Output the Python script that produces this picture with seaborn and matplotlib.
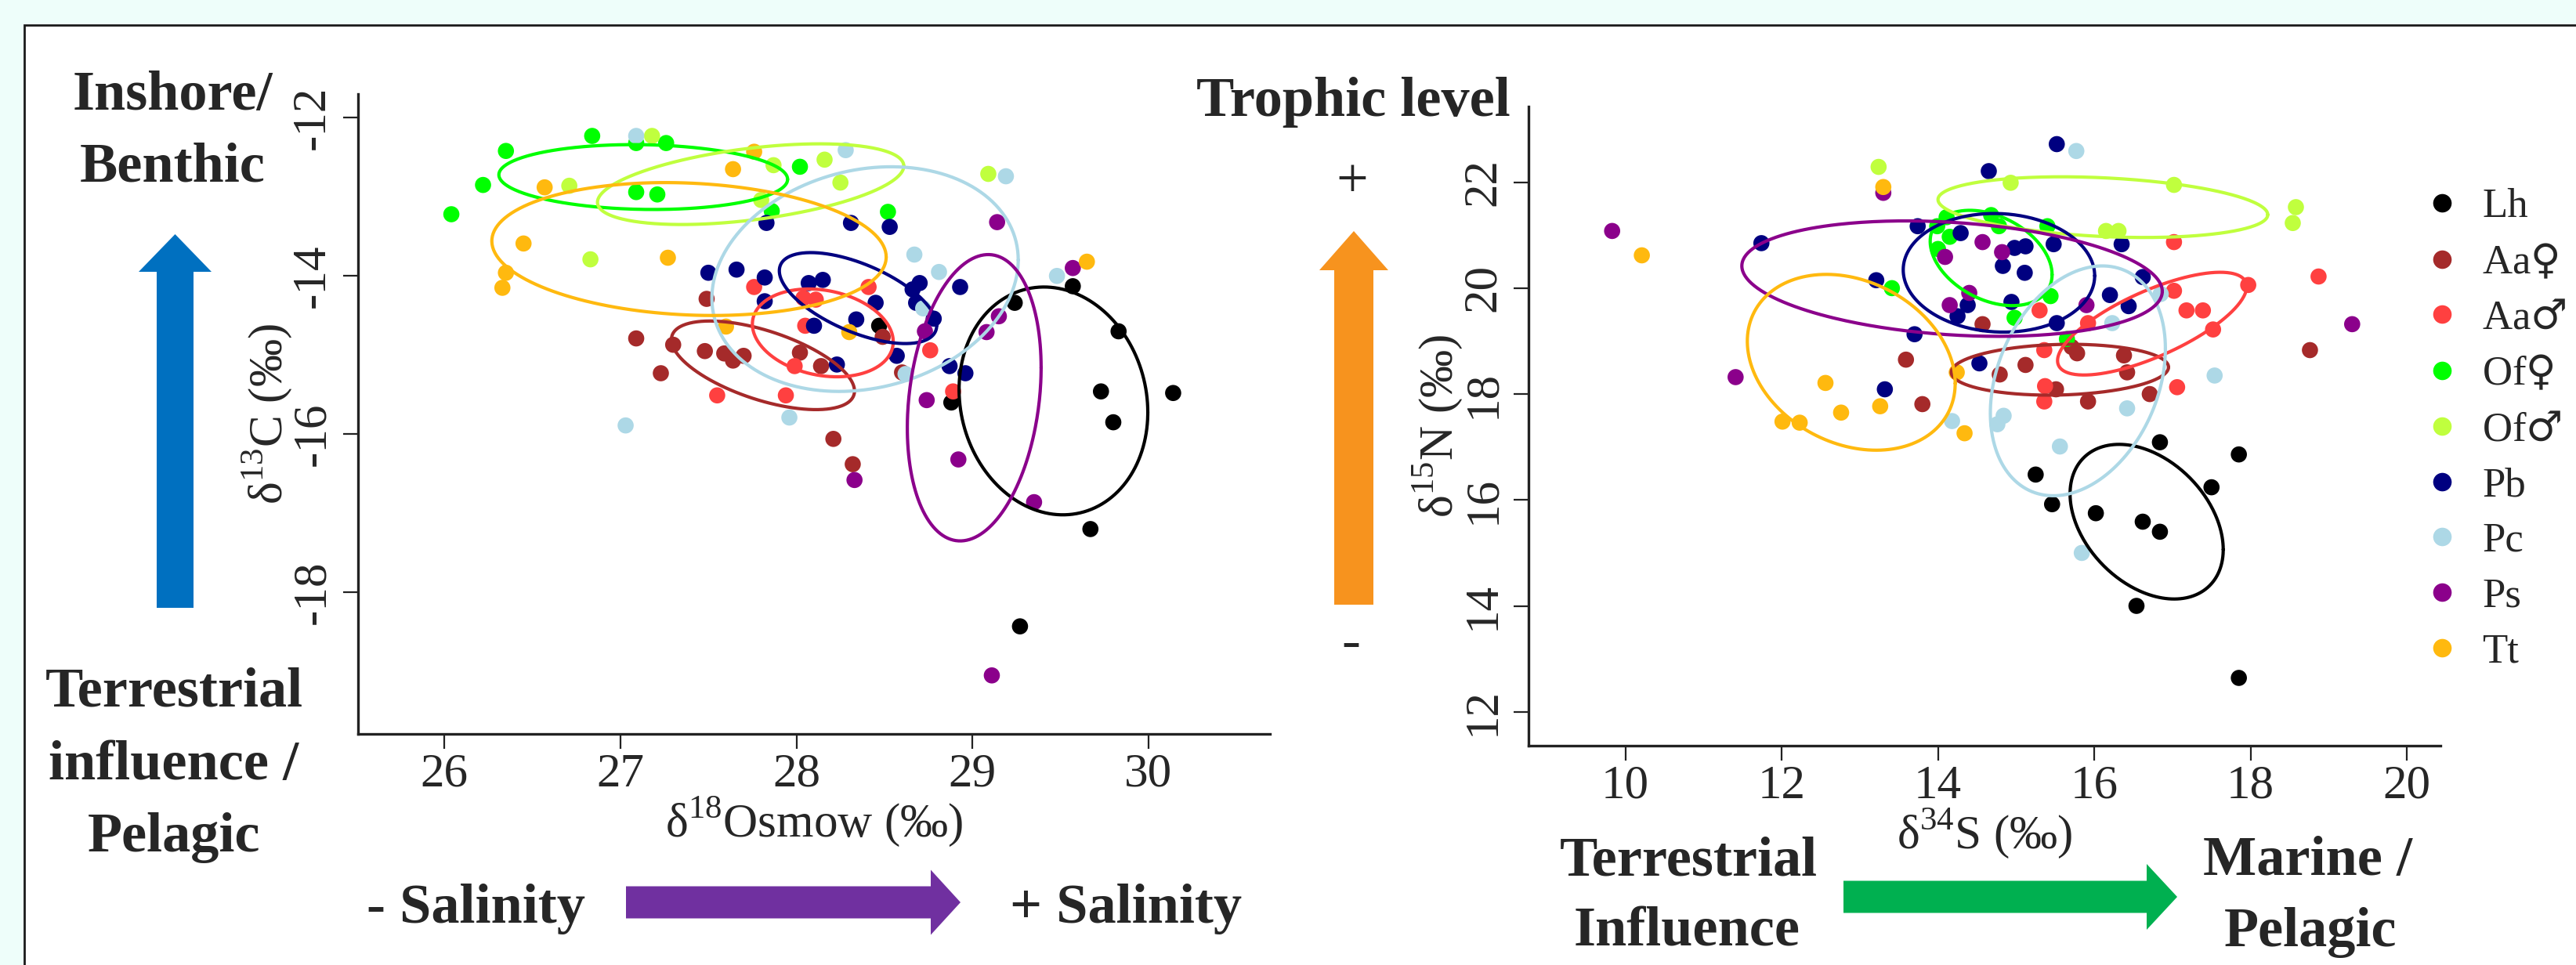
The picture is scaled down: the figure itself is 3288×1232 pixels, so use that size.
import numpy as np
import pandas as pd
import seaborn as sns
import matplotlib.pyplot as plt
from matplotlib.patches import Rectangle, FancyArrow
from matplotlib.lines import Line2D

groups = ["Lh", "Aa♀", "Aa♂", "Of♀", "Of♂", "Pb", "Pc", "Ps", "Tt"]
colors = ["#000000", "#A52A2A", "#FF4040", "#00FF00", "#C0FF3E",
          "#000080", "#ADD8E6", "#8B008B", "#FFB90F"]

# left panel: d18O (x) and d13C (y)
o18 = {
    "Lh": [28.47, 28.88, 29.24, 29.57, 29.83, 29.73, 30.14, 29.80, 29.67, 29.27],
    "Aa♀": [27.49, 27.09, 27.30, 27.48, 27.59, 27.64, 27.70, 27.23, 28.02, 28.14, 28.21, 28.32, 28.49, 28.60],
    "Aa♂": [27.76, 28.04, 28.11, 28.41, 28.05, 27.99, 27.55, 27.94, 28.76, 28.89],
    "Of♀": [26.84, 26.35, 27.09, 27.26, 26.22, 26.04, 28.02, 27.09, 27.21, 28.52, 27.86],
    "Of♂": [27.18, 26.71, 26.83, 27.87, 28.16, 28.25, 27.80, 29.09],
    "Pb": [27.83, 28.31, 28.53, 27.50, 27.66, 27.82, 27.82, 28.07, 28.15, 28.45, 28.66,
           28.70, 28.93, 28.68, 28.78, 28.10, 28.34, 28.57, 28.23, 28.87, 28.96],
    "Pc": [27.09, 28.28, 29.19, 28.67, 28.81, 28.72, 29.48, 28.62, 27.96, 27.03],
    "Ps": [29.14, 29.57, 28.73, 29.08, 29.15, 28.74, 28.92, 28.33, 29.35, 29.11],
    "Tt": [27.76, 27.64, 26.57, 26.45, 26.35, 26.33, 27.27, 29.65, 28.30, 27.60],
}
c13 = {
    "Lh": [-14.63, -15.60, -14.34, -14.13, -14.70, -15.46, -15.48, -15.85, -17.20, -18.43],
    "Aa♀": [-14.29, -14.79, -14.87, -14.95, -14.98, -15.07, -15.01, -15.23, -14.97, -15.14, -16.06, -16.38, -14.77, -15.22],
    "Aa♂": [-14.14, -14.28, -14.30, -14.14, -14.63, -15.14, -15.51, -15.51, -14.94, -15.46],
    "Of♀": [-12.23, -12.42, -12.32, -12.32, -12.85, -13.22, -12.62, -12.94, -12.97, -13.19, -13.18],
    "Of♂": [-12.23, -12.86, -13.79, -12.60, -12.53, -12.82, -13.04, -12.71],
    "Pb": [-13.33, -13.33, -13.38, -13.96, -13.92, -14.02, -14.32, -14.09, -14.05, -14.34, -14.17,
           -14.09, -14.14, -14.34, -14.54, -14.63, -14.55, -15.01, -15.12, -15.14, -15.23],
    "Pc": [-12.23, -12.41, -12.74, -13.73, -13.95, -14.41, -14.00, -15.24, -15.79, -15.89],
    "Ps": [-13.32, -13.90, -14.70, -14.71, -14.51, -15.57, -16.32, -16.58, -16.86, -19.05],
    "Tt": [-12.43, -12.65, -12.88, -13.59, -13.96, -14.15, -13.77, -13.82, -14.71, -14.64],
}

# right panel: d34S (x) and d15N (y)
s34 = {
    "Lh": [16.84, 17.85, 15.25, 17.50, 15.46, 16.02, 16.62, 16.84, 16.54, 17.85],
    "Aa♀": [14.57, 13.59, 13.80, 14.79, 15.12, 15.51, 15.71, 15.78, 16.38, 16.42, 15.92, 16.71, 18.76],
    "Aa♂": [17.02, 17.02, 17.97, 18.87, 17.18, 17.39, 17.52, 15.30, 15.92, 15.36, 15.37, 15.36, 17.06],
    "Of♀": [14.11, 13.99, 14.68, 14.78, 14.00, 14.15, 13.41, 15.44, 14.98, 15.65, 15.40],
    "Of♂": [13.24, 14.93, 17.02, 18.58, 18.54, 16.15, 16.31],
    "Pb": [15.52, 14.65, 11.74, 13.74, 14.29, 13.21, 14.83, 14.98, 15.12, 15.11, 15.48,
           14.94, 14.38, 14.25, 15.52, 16.20, 16.44, 16.35, 16.62, 13.70, 13.32, 14.53],
    "Pc": [15.77, 16.23, 16.85, 17.54, 14.18, 14.84, 14.76, 16.42, 15.56, 15.84],
    "Ps": [9.83, 13.30, 14.57, 14.82, 14.09, 14.15, 14.40, 15.90, 11.41, 19.30],
    "Tt": [13.30, 10.21, 12.56, 12.01, 12.23, 12.76, 13.26, 14.34, 14.24],
}
n15 = {
    "Lh": [17.09, 16.86, 16.48, 16.24, 15.92, 15.75, 15.59, 15.40, 14.00, 12.64],
    "Aa♀": [19.32, 18.65, 17.81, 18.37, 18.55, 18.09, 18.89, 18.77, 18.73, 18.41, 17.86, 18.00, 18.83],
    "Aa♂": [20.87, 19.95, 20.06, 20.22, 19.58, 19.58, 19.22, 19.58, 19.34, 18.83, 18.15, 17.86, 18.13],
    "Of♀": [21.34, 21.17, 21.38, 21.17, 20.74, 20.97, 20.00, 19.85, 19.44, 19.04, 21.17],
    "Of♂": [22.29, 21.99, 21.95, 21.53, 21.23, 21.08, 21.08],
    "Pb": [22.72, 22.21, 20.85, 21.17, 21.04, 20.15, 20.42, 20.76, 20.79, 20.29, 20.83,
           19.74, 19.68, 19.47, 19.34, 19.87, 19.66, 20.83, 20.21, 19.13, 18.09, 18.58],
    "Pc": [22.59, 19.34, 19.89, 18.35, 17.49, 17.59, 17.43, 17.73, 17.01, 15.00],
    "Ps": [21.08, 21.80, 20.87, 20.68, 20.59, 19.68, 19.91, 19.68, 18.32, 19.32],
    "Tt": [21.91, 20.62, 18.21, 17.48, 17.46, 17.65, 17.77, 17.26, 18.41],
}

# standard ellipses (group order): centre, half range in x / y, correlation
ell1_cx = [29.46, 27.81, 28.15, 27.13, 27.74, 28.35, 28.39, 29.01, 27.39]
ell1_cy = [-15.58, -15.13, -14.72, -12.75, -12.84, -14.28, -14.04, -15.54, -13.66]
ell1_sx = [0.536, 0.52, 0.40, 0.82, 0.87, 0.447, 0.87, 0.38, 1.12]
ell1_sy = [1.44, 0.56, 0.555, 0.41, 0.51, 0.575, 1.42, 1.81, 0.84]
ell1_r = [-0.10, -0.58, -0.20, -0.07, 0.45, -0.60, 0.17, 0.21, -0.12]

ell2_cx = [16.67, 15.56, 16.74, 14.68, 16.11, 14.78, 15.79, 14.18, 12.89]
ell2_cy = [15.59, 18.46, 19.33, 20.57, 21.53, 20.29, 18.25, 20.18, 18.60]
ell2_sx = [0.98, 1.39, 1.21, 0.78, 2.11, 1.225, 1.12, 2.69, 1.33]
ell2_sy = [1.46, 0.48, 0.97, 0.90, 0.573, 1.12, 2.17, 1.09, 1.66]
ell2_r = [-0.36, 0.10, 0.72, -0.35, -0.25, -0.05, 0.28, -0.22, -0.24]


def long_df(xd, yd):
    rows = []
    for g in groups:
        for a, b in zip(xd[g], yd[g]):
            rows.append((g, a, b))
    return pd.DataFrame(rows, columns=["g", "x", "y"])


sns.set_style("ticks")
plt.rcParams["font.family"] = ["Liberation Serif", "DejaVu Serif"]
plt.rcParams["mathtext.fontset"] = "custom"
plt.rcParams["mathtext.rm"] = "Liberation Serif"
plt.rcParams["mathtext.sf"] = "DejaVu Serif"
plt.rcParams["axes.unicode_minus"] = False

W, H = 3288, 1232
fig = plt.figure(figsize=(W / 200, H / 200), dpi=200, facecolor="#EEFEFA")

# pixel canvas behind everything for the frame, arrows and notes
bg = fig.add_axes([0, 0, 1, 1], zorder=-10)
bg.set_xlim(0, W)
bg.set_ylim(H, 0)
bg.axis("off")
bg.add_patch(Rectangle((31, 32), W, H, facecolor="white", edgecolor="#1a1a1a", lw=1.0))

ax1 = fig.add_axes([457 / W, 1 - 937 / H, 1164 / W, 817 / H])
ax2 = fig.add_axes([1951 / W, 1 - 952 / H, 1164 / W, 816 / H])

t = np.linspace(0, 2 * np.pi, 300)
panels = [
    (ax1, long_df(o18, c13), (ell1_cx, ell1_cy, ell1_sx, ell1_sy, ell1_r),
     (25.51, 30.69), (-19.79, -11.70), [26, 27, 28, 29, 30], [-18, -16, -14, -12],
     r"δ$^{\mathrm{18}}$Osmow (‰)", r"δ$^{\mathrm{13}}$C (‰)"),
    (ax2, long_df(s34, n15), (ell2_cx, ell2_cy, ell2_sx, ell2_sy, ell2_r),
     (8.76, 20.43), (11.36, 23.43), [10, 12, 14, 16, 18, 20], [12, 14, 16, 18, 20, 22],
     r"δ$^{\mathrm{34}}$S (‰)", r"δ$^{\mathrm{15}}$N (‰)"),
]

for ax, df, ell, xl, yl, xt, yt, xlab, ylab in panels:
    ax.set_facecolor("none")
    sns.scatterplot(data=df, x="x", y="y", hue="g", hue_order=groups, palette=colors,
                    s=55, linewidth=0, legend=False, ax=ax, zorder=2)
    for c, cx, cy, sx, sy, r in zip(colors, *ell):
        ax.plot(cx + sx * np.cos(t),
                cy + sy * (r * np.cos(t) + np.sqrt(1 - r * r) * np.sin(t)),
                color=c, lw=1.5, zorder=3)
    ax.set_xlim(*xl)
    ax.set_ylim(*yl)
    ax.set_xticks(xt)
    ax.set_yticks(yt)
    sns.despine(ax=ax)
    for s in ["left", "bottom"]:
        ax.spines[s].set_linewidth(1.2)
        ax.spines[s].set_color("#222222")
    ax.tick_params(direction="out", length=6.8, width=0.8, labelsize=22, color="#222222")
    ax.tick_params(axis="x", pad=2)
    ax.tick_params(axis="y", pad=4, labelrotation=90)
    for lab in ax.get_yticklabels():
        lab.set_va("center")
    ax.set_xlabel(xlab, fontsize=22)
    ax.set_ylabel(ylab, fontsize=22)
    ax.xaxis.label.set_va("center")
    ax.xaxis.set_label_coords(0.5, -0.138)
    ax.yaxis.label.set_va("center")
    ax.yaxis.label.set_ha("center")
    ax.yaxis.set_label_coords(-0.0997, 0.5)

# larger sex symbols in the legend, as in the original
leg_labels = [g.replace("♀", r"$\mathsf{♀}$").replace("♂", r"$\mathsf{♂}$") for g in groups]
handles = [Line2D([], [], marker="o", ls="", color=c, markersize=8.5, markeredgewidth=0)
           for c in colors]
fig.legend(handles, leg_labels, loc="upper left", bbox_to_anchor=(3096 / W, 1 - 240 / H),
           frameon=False, fontsize=19, handlelength=0.8, handletextpad=0.57,
           labelspacing=0.43, borderpad=0, borderaxespad=0)

# arrows
bg.add_patch(FancyArrow(223.5, 776, 0, -477, width=47, head_width=93, head_length=48,
                        length_includes_head=True, color="#0070C0", lw=0))
bg.add_patch(FancyArrow(1728, 772, 0, -477, width=50, head_width=88, head_length=50,
                        length_includes_head=True, color="#F7931E", lw=0))
bg.add_patch(FancyArrow(799, 1152, 427, 0, width=41, head_width=83, head_length=38,
                        length_includes_head=True, color="#7030A0", lw=0))
bg.add_patch(FancyArrow(2353, 1145, 426, 0, width=41, head_width=84, head_length=39,
                        length_includes_head=True, color="#00B050", lw=0))

bold = dict(fontsize=26, fontweight="bold", ha="center", va="baseline")
notes = [
    (220, 140, "Inshore/"), (220, 232, "Benthic"),
    (222, 902, "Terrestrial"), (222, 995, "influence /"), (222, 1087, "Pelagic"),
    (607, 1178, "- Salinity"), (1437, 1178, "+ Salinity"),
    (1727, 148, "Trophic level"),
    (2155, 1117, "Terrestrial"), (2153, 1208, "Influence"),
    (2946, 1117, "Marine /"), (2949, 1208, "Pelagic"),
]
for x, y, s in notes:
    bg.text(x, y, s, **bold)
bg.text(1726, 233, "+", fontsize=26, ha="center", va="center")
bg.text(1724, 822, "-", fontsize=26, ha="center", va="center")

fig.savefig("out.png", dpi=200, facecolor=fig.get_facecolor())
